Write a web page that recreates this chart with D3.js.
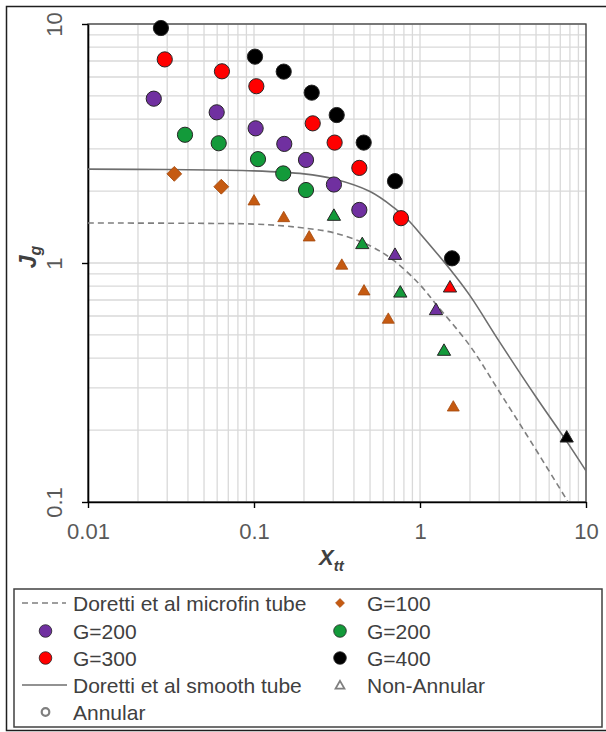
<!DOCTYPE html>
<html>
<head>
<meta charset="utf-8">
<script src="https://cdn.jsdelivr.net/npm/d3@7"></script>
<style>
  html, body { margin: 0; padding: 0; background: #fff; }
  svg { display: block; }
</style>
</head>
<body>
<svg id="chart" width="606" height="732"></svg>
<script>
// Doretti et al. annular transition lines (X_tt, J_g)
const smoothX   = [0.01, 0.03, 0.1, 0.2, 0.3, 0.5, 0.7, 0.85, 1, 1.5, 2, 3, 5, 7.7, 10];
const smoothY   = [2.47, 2.46, 2.43, 2.36, 2.25, 1.99, 1.70, 1.51, 1.33, 0.95, 0.73, 0.47, 0.275, 0.178, 0.135];
const microfinX = [0.01, 0.05, 0.1, 0.15, 0.2, 0.3, 0.5, 0.7, 1, 1.26, 2, 3, 4.8, 7.8];
const microfinY = [1.47, 1.465, 1.455, 1.43, 1.40, 1.34, 1.18, 1.02, 0.81, 0.667, 0.45, 0.29, 0.173, 0.1];

// Measured points per mass flux: annular (Ann) and non-annular (Non)
const g100AnnX  = [0.0331, 0.0635];
const g100AnnY  = [2.36, 2.085];
const g100NonX  = [0.100, 0.151, 0.215, 0.338, 0.460, 0.644, 1.587];
const g100NonY  = [1.835, 1.562, 1.297, 0.988, 0.771, 0.587, 0.252];

const g200pAnnX = [0.0249, 0.0596, 0.1023, 0.1522, 0.2057, 0.303, 0.431];
const g200pAnnY = [4.87, 4.27, 3.66, 3.15, 2.70, 2.13, 1.667];
const g200pNonX = [0.707, 1.248];
const g200pNonY = [1.09, 0.640];

const g200gAnnX = [0.0384, 0.0613, 0.1057, 0.150, 0.2057];
const g200gAnnY = [3.44, 3.17, 2.72, 2.37, 2.02];
const g200gNonX = [0.303, 0.449, 0.761, 1.395];
const g200gNonY = [1.588, 1.209, 0.758, 0.4325];

const g300AnnX  = [0.029, 0.0641, 0.1033, 0.2258, 0.306, 0.431, 0.768];
const g300AnnY  = [7.11, 6.34, 5.49, 3.84, 3.19, 2.50, 1.54];
const g300NonX  = [1.516];
const g300NonY  = [0.796];

const g400AnnX  = [0.0275, 0.1014, 0.151, 0.2227, 0.315, 0.458, 0.707, 1.559];
const g400AnnY  = [9.62, 7.30, 6.32, 5.16, 4.16, 3.19, 2.20, 1.046];
const g400NonX  = [7.65];
const g400NonY  = [0.1876];

// Axis ticks
const xTickValues = [0.01, 0.1, 1, 10];
const xTickLabels = ["0.01", "0.1", "1", "10"];
const yTickValues = [0.1, 1, 10];
const yTickLabels = ["0.1", "1", "10"];

// Legend texts
const lineLabels   = ["Doretti et al microfin tube", "Doretti et al smooth tube"];
const seriesLabels = ["G=100", "G=200", "G=200", "G=300", "G=400"];
const shapeLabels  = ["Non-Annular", "Annular"];

const seriesColors = ["#c55a11", "#7030a0", "#139a3a", "#ff0000", "#000000"];
const seriesStroke = ["#a4490c", "#262626", "#262626", "#262626", "#262626"];

const series = [
  { annX: g100AnnX,  annY: g100AnnY,  nonX: g100NonX,  nonY: g100NonY,  diamond: true },
  { annX: g200pAnnX, annY: g200pAnnY, nonX: g200pNonX, nonY: g200pNonY },
  { annX: g200gAnnX, annY: g200gAnnY, nonX: g200gNonX, nonY: g200gNonY },
  { annX: g300AnnX,  annY: g300AnnY,  nonX: g300NonX,  nonY: g300NonY },
  { annX: g400AnnX,  annY: g400AnnY,  nonX: g400NonX,  nonY: g400NonY }
];

const FONT = "'Liberation Sans', Arial, sans-serif";
const svg = d3.select("#chart");

// outer frame
svg.append("rect")
  .attr("x", 6.5).attr("y", 6.5).attr("width", 610).attr("height", 724)
  .attr("fill", "none").attr("stroke", "#1f1f1f").attr("stroke-width", 1.5);

const plot = { left: 88, top: 24, right: 586, bottom: 502 };
const x = d3.scaleLog().domain([0.01, 10]).range([plot.left, plot.right]);
const y = d3.scaleLog().domain([0.1, 10]).range([plot.bottom, plot.top]);

// gridlines (major and minor)
const grid = svg.append("g").attr("stroke", "#d9d9d9").attr("stroke-width", 1.3);
grid.selectAll("line.vx").data(x.ticks()).join("line")
  .attr("x1", d => x(d)).attr("x2", d => x(d))
  .attr("y1", plot.top).attr("y2", plot.bottom);
grid.selectAll("line.hy").data(y.ticks()).join("line")
  .attr("x1", plot.left).attr("x2", plot.right)
  .attr("y1", d => y(d)).attr("y2", d => y(d));

// plot frame
svg.append("rect")
  .attr("x", plot.left).attr("y", plot.top)
  .attr("width", plot.right - plot.left).attr("height", plot.bottom - plot.top)
  .attr("fill", "none").attr("stroke", "#404040").attr("stroke-width", 1.3);

// axes
const xAxis = svg.append("g")
  .attr("transform", `translate(0,${plot.bottom})`)
  .call(d3.axisBottom(x).tickValues(xTickValues)
        .tickFormat((d, i) => xTickLabels[i]).tickSize(6).tickSizeOuter(0));
xAxis.select(".domain").attr("stroke", "#000").attr("stroke-width", 1.6);
xAxis.selectAll(".tick line").attr("stroke", "#000").attr("stroke-width", 1.4);
xAxis.selectAll(".tick text")
  .attr("y", 37).attr("dy", 0)
  .attr("fill", "#595959").style("font-family", FONT).style("font-size", "22px");

const yAxis = svg.append("g")
  .attr("transform", `translate(${plot.left},0)`)
  .call(d3.axisLeft(y).tickValues(yTickValues)
        .tickFormat((d, i) => yTickLabels[i]).tickSize(6).tickSizeOuter(0));
yAxis.select(".domain").attr("stroke", "#000").attr("stroke-width", 1.6);
yAxis.selectAll(".tick line").attr("stroke", "#000").attr("stroke-width", 1.4);
yAxis.selectAll(".tick text")
  .attr("x", 0).attr("dy", 0)
  .attr("text-anchor", "middle")
  .attr("transform", "translate(-26,0) rotate(-90)")
  .attr("fill", "#595959").style("font-family", FONT).style("font-size", "22px");

// axis titles
const xTitle = svg.append("text")
  .attr("x", 319).attr("y", 565)
  .attr("fill", "#404040").style("font-family", FONT)
  .style("font-weight", "bold").style("font-style", "italic");
xTitle.append("tspan").style("font-size", "22px").text("X");
xTitle.append("tspan").attr("dy", 6).style("font-size", "15px").text("tt");

const yTitle = svg.append("text")
  .attr("transform", "translate(36,257) rotate(-90)")
  .attr("text-anchor", "middle")
  .attr("fill", "#404040").style("font-family", FONT)
  .style("font-weight", "bold").style("font-style", "italic");
yTitle.append("tspan").style("font-size", "23px").text("J");
yTitle.append("tspan").attr("dy", 5).style("font-size", "16px").text("g");

// transition lines
svg.append("clipPath").attr("id", "plotClip").append("rect")
  .attr("x", plot.left).attr("y", plot.top)
  .attr("width", plot.right - plot.left).attr("height", plot.bottom - plot.top);

const line = d3.line().x(d => x(d[0])).y(d => y(d[1])).curve(d3.curveCatmullRom.alpha(0.5));
const lines = svg.append("g").attr("clip-path", "url(#plotClip)").attr("fill", "none");
lines.append("path")
  .attr("d", line(microfinX.map((v, i) => [v, microfinY[i]])))
  .attr("stroke", "#7f7f7f").attr("stroke-width", 1.6).attr("stroke-dasharray", "6,4");
lines.append("path")
  .attr("d", line(smoothX.map((v, i) => [v, smoothY[i]])))
  .attr("stroke", "#6e6e6e").attr("stroke-width", 1.6);

// markers
const tri = d3.symbol().type(d3.symbolTriangle);
const dia = d3.symbol().type(d3.symbolSquare).size(110);
const marks = svg.append("g");
series.forEach((s, k) => {
  const pts = s.annX.map((v, i) => [v, s.annY[i]]);
  if (s.diamond) {
    marks.selectAll(null).data(pts).join("path")
      .attr("d", dia)
      .attr("transform", d => `translate(${x(d[0])},${y(d[1])}) rotate(45)`)
      .attr("fill", seriesColors[k]).attr("stroke", seriesStroke[k]).attr("stroke-width", 0.8)
      .attr("stroke-linejoin", "round");
  } else {
    marks.selectAll(null).data(pts).join("circle")
      .attr("cx", d => x(d[0])).attr("cy", d => y(d[1])).attr("r", 7.6)
      .attr("fill", seriesColors[k]).attr("stroke", seriesStroke[k]).attr("stroke-width", 1);
  }
  const tp = s.nonX.map((v, i) => [v, s.nonY[i]]);
  marks.selectAll(null).data(tp).join("path")
    .attr("d", tri.size(s.diamond ? 62 : 76))
    .attr("transform", d => `translate(${x(d[0])},${y(d[1]) + 1.5})`)
    .attr("fill", seriesColors[k]).attr("stroke", seriesStroke[k]).attr("stroke-width", s.diamond ? 0.8 : 1);
});

// legend
svg.append("rect")
  .attr("x", 14).attr("y", 589).attr("width", 588).attr("height", 138)
  .attr("fill", "#fff").attr("stroke", "#404040").attr("stroke-width", 1.5);

const rowY = [603, 631, 658, 685, 712];
const col1 = { mark: 45.5, text: 73 };
const col2 = { mark: 340, text: 367 };
const lg = svg.append("g");

function legendText(cx, cy, label) {
  lg.append("text").attr("x", cx).attr("y", cy).attr("dy", "0.36em")
    .attr("fill", "#404040").style("font-family", FONT).style("font-size", "21px")
    .text(label);
}

// row 1
lg.append("line").attr("x1", 22).attr("x2", 66).attr("y1", rowY[0]).attr("y2", rowY[0])
  .attr("stroke", "#7f7f7f").attr("stroke-width", 1.6).attr("stroke-dasharray", "6,4");
legendText(col1.text, rowY[0], lineLabels[0]);
lg.append("path").attr("d", d3.symbol().type(d3.symbolSquare).size(40)())
  .attr("transform", `translate(${col2.mark},${rowY[0]}) rotate(45)`)
  .attr("fill", seriesColors[0]).attr("stroke", seriesStroke[0]).attr("stroke-width", 0.6);
legendText(col2.text, rowY[0], seriesLabels[0]);

// rows 2-3: filled circles
[[1, col1, 1], [2, col2, 1], [3, col1, 2], [4, col2, 2]].forEach(([k, col, r]) => {
  lg.append("circle").attr("cx", col.mark).attr("cy", rowY[r]).attr("r", 6.3)
    .attr("fill", seriesColors[k]).attr("stroke", seriesStroke[k]).attr("stroke-width", 0.8);
  legendText(col.text, rowY[r], seriesLabels[k]);
});

// row 4
lg.append("line").attr("x1", 22).attr("x2", 67).attr("y1", rowY[3]).attr("y2", rowY[3])
  .attr("stroke", "#6e6e6e").attr("stroke-width", 1.6);
legendText(col1.text, rowY[3], lineLabels[1]);
lg.append("path").attr("d", d3.symbol().type(d3.symbolTriangle).size(34)())
  .attr("transform", `translate(${col2.mark},${rowY[3] + 1})`)
  .attr("fill", "none").attr("stroke", "#7f7f7f").attr("stroke-width", 1.8);
legendText(col2.text, rowY[3], shapeLabels[0]);

// row 5
lg.append("circle").attr("cx", col1.mark).attr("cy", rowY[4]).attr("r", 3.8)
  .attr("fill", "none").attr("stroke", "#7f7f7f").attr("stroke-width", 2.2);
legendText(col1.text, rowY[4], shapeLabels[1]);
</script>
</body>
</html>
